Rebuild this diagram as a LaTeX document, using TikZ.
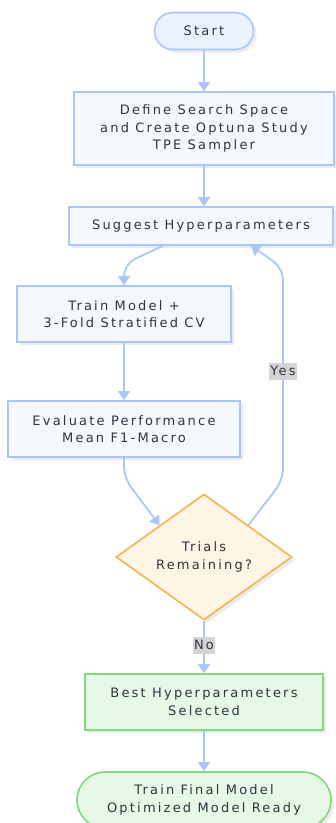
\documentclass[tikz,border=0pt]{standalone}
\usepackage{fontspec}
\setmainfont{DejaVu Sans}[LetterSpace=17]
\usetikzlibrary{shapes.geometric,arrows.meta,shadows}
\definecolor{lineblue}{HTML}{A9C7F7}
\definecolor{boxblue}{HTML}{F5F8FE}
\definecolor{startblue}{HTML}{E9F2FD}
\definecolor{ink}{HTML}{33333F}
\definecolor{diamondfill}{HTML}{FFF5E4}
\definecolor{diamondline}{HTML}{F8B24C}
\definecolor{greenfill}{HTML}{E6F8E6}
\definecolor{greenline}{HTML}{80D880}
\definecolor{labelgrey}{HTML}{D4D4D4}
\begin{document}
\begin{tikzpicture}[
        x=1pt, y=-1pt,
        every node/.style={text=ink, align=center, font=\fontsize{13}{17.5}\selectfont},
        shade/.style={drop shadow={shadow xshift=3pt, shadow yshift=-3pt, fill=black, opacity=0.08}},
        procbox/.style={rectangle, draw=lineblue, fill=boxblue, line width=1.6pt, shade, inner sep=0pt},
        termbox/.style={rectangle, rounded corners=#1, draw=lineblue, fill=startblue, line width=1.6pt, shade, inner sep=0pt},
        decide/.style={diamond, draw=diamondline, fill=diamondfill, line width=1.6pt, shade, inner sep=0pt},
        goodbox/.style={rectangle, draw=greenline, fill=greenfill, line width=1.6pt, shade, inner sep=0pt},
        flow/.style={draw=lineblue, line width=1.8pt, -{Triangle[width=12pt,length=9pt]}, rounded corners=12pt},
        tag/.style={fill=labelgrey, inner sep=1.5pt, minimum height=17pt}
    ]
        \useasboundingbox (0,0) rectangle (336,823);

        % Die Knoten
        \node[termbox=18.5pt, minimum width=99pt, minimum height=37pt] (start) at (204,31) {Start};
        \node[procbox, minimum width=260pt, minimum height=73pt] (define) at (204,128.5)
            {Define Search Space\\and Create Optuna Study\\TPE Sampler};
        \node[procbox, minimum width=264pt, minimum height=38pt] (suggest) at (201,226) {Suggest Hyperparameters};
        \node[procbox, minimum width=214pt, minimum height=56pt] (train) at (124,314) {Train Model +\\3-Fold Stratified CV};
        \node[procbox, minimum width=232pt, minimum height=56pt] (eval) at (124,429) {Evaluate Performance\\Mean F1-Macro};
        \node[decide, minimum width=176pt, minimum height=118pt] (trials) at (204,557) {Trials\\Remaining?};
        \node[goodbox, minimum width=238pt, minimum height=56pt] (best) at (204,702) {Best Hyperparameters\\Selected};
        \node[goodbox, rounded corners=28pt, minimum width=254pt, minimum height=56pt] (final) at (204,800)
            {Train Final Model\\Optimized Model Ready};

        % Die Verbindungen
        \draw[flow] (start) -- (define);
        \draw[flow] (define.south) -- (define.south |- suggest.north);
        \draw[flow] ([xshift=-38pt]suggest.south) -- (124,264) -- (train.north);
        \draw[flow] (train) -- (eval);
        \draw[flow] (eval.south) -- (124,478) -- (trials.north west);
        \draw[flow] (trials.north east) -- (283,480) -- (283,268) -- ([xshift=50pt]suggest.south);
        \draw[flow] (trials) -- (best);
        \draw[flow] (best) -- (final);

        % Beschriftungen
        \node[tag] (yes) at (283,371) {Yes};
        \node[tag] (no) at (204,645) {No};
    \end{tikzpicture}
\end{document}
